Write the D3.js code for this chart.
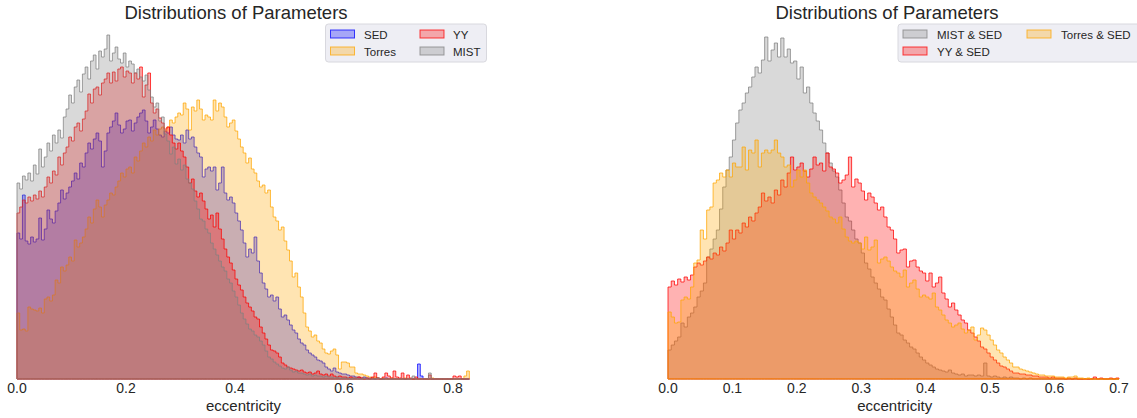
<!DOCTYPE html>
<html><head><meta charset="utf-8">
<script src="https://cdn.jsdelivr.net/npm/d3@7"></script>
<style>body{margin:0;background:#fff}svg{display:block}</style>
</head><body><svg id="c" width="1137" height="418"></svg>
<script>
const binWidth = 0.005;
// Left panel (eccentricity, 0 - 0.83), bin heights
const leftSED = [
146,140,184,138,135,142,137,140,161,139,
150,169,160,156,168,176,189,180,186,192,
198,206,200,216,212,226,236,230,240,246,
238,212,228,246,252,258,266,254,246,250,
258,259,248,256,262,266,269,258,246,252,
259,250,244,242,248,246,252,244,240,239,
244,236,249,240,242,232,226,222,202,210,
212,208,212,189,196,212,186,179,182,176,
166,158,149,136,122,130,126,142,118,106,
96,90,82,84,78,82,70,62,64,59,
54,49,46,40,36,34,29,26,24,22,
19,18,16,12,10,8,11,7,6,5,
5,4,3,3,2,2,1,2,1,1,
1,0,1,0,0,1,0,0,0,0,
0,0,0,0,0,0,0,15,3,0,
0,0,0,0,0,0,0,0,0,0,
0,0,0,0,0,0];
const leftTorres = [
66,49,50,48,72,70,69,68,71,66,
80,82,78,84,99,96,112,108,114,122,
118,139,132,136,142,150,162,156,170,179,
172,162,174,179,186,184,192,198,206,202,
210,212,206,222,218,228,236,232,242,238,
249,244,250,252,248,252,259,256,262,266,
264,276,270,249,272,268,279,270,259,264,
262,259,279,268,276,272,262,252,256,259,
248,240,232,226,216,221,210,206,198,192,
194,186,189,172,162,158,149,152,138,129,
118,102,106,92,82,66,52,48,42,44,
38,36,30,26,25,28,30,24,10,17,
17,16,12,12,6,5,5,4,3,2,
1,2,1,0,1,0,0,1,0,0,
0,0,1,0,0,0,0,0,0,0,
0,0,1,0,0,0,0,0,0,0,
0,0,0,0,3,8];
const leftYY = [
166,172,179,176,182,178,184,180,188,182,
192,202,196,208,204,222,214,226,232,242,
238,252,256,248,260,268,285,276,290,292,
284,296,300,306,296,307,298,310,312,302,
308,306,296,306,300,312,282,294,306,276,
266,270,261,256,250,252,244,236,230,236,
228,222,212,196,200,188,182,186,178,170,
160,164,152,166,150,140,130,122,116,109,
100,94,89,82,76,72,68,62,60,52,
46,40,34,29,28,26,22,16,14,12,
11,10,9,8,9,7,6,7,5,6,
8,5,4,5,3,5,3,2,3,2,
2,1,2,1,1,2,1,0,1,0,
2,6,1,0,2,6,3,1,8,2,
1,6,0,4,1,0,2,0,0,0,
0,4,0,0,0,0,0,0,0,0,
3,2,3,0,0,0];
const leftMIST = [
196,190,203,199,206,198,214,205,230,212,
222,236,228,244,236,249,241,262,270,284,
276,292,299,287,305,312,300,318,324,310,
328,322,330,344,318,326,332,320,316,326,
312,318,315,306,310,302,298,304,289,282,
272,276,258,262,245,238,225,232,215,220,
209,214,200,196,190,178,170,160,158,150,
146,136,130,124,118,112,108,100,96,88,
82,74,66,60,55,50,48,44,42,38,
34,28,22,20,17,15,13,11,10,12,
9,7,8,6,6,5,4,5,3,4,
3,3,2,3,2,2,1,2,1,1,
1,1,0,1,1,0,0,1,0,0,
0,0,1,0,0,0,0,0,0,0,
0,0,0,0,0,3,0,0,0,0,
0,6,0,0,0,0,0,0,0,0,
0,0,0,0,0,0];
// Right panel (eccentricity, 0 - 0.70)
const rightMIST = [
29,34,38,42,56,52,62,66,72,82,
88,96,122,130,140,149,170,192,209,222,
239,256,269,276,286,292,302,312,306,319,
342,318,329,336,322,341,322,330,316,318,
300,312,286,292,276,266,258,249,236,226,
216,208,202,189,176,162,158,149,140,136,
126,116,110,102,96,90,82,79,70,62,
54,46,44,39,36,32,30,26,22,19,
16,14,12,10,9,8,7,9,6,5,
4,5,3,4,4,3,4,3,16,3,
2,3,2,1,2,1,2,1,1,0,
1,0,1,0,0,0,0,0,0,0,
0,0,0,0,0,0,0,0,0,0,
0,0,0,0,0,0,0,0,0,0];
const rightYY = [
92,98,94,100,97,102,99,104,112,116,
114,118,122,120,126,124,132,128,136,149,
140,149,146,156,152,162,158,166,172,186,
178,182,176,189,184,199,192,206,222,209,
212,216,208,202,210,222,214,216,208,226,
212,210,206,196,199,204,222,192,200,196,
188,179,186,182,176,169,172,162,152,149,
140,126,129,130,112,118,119,112,108,106,
98,106,92,96,102,86,80,72,76,69,
64,59,56,49,46,42,38,32,30,26,
22,19,16,13,12,10,8,6,6,5,
5,4,4,3,3,2,2,2,1,2,
1,1,1,0,1,0,1,0,0,0,
0,0,2,0,1,0,0,1,0,1];
const rightTorres = [
67,62,56,57,79,82,80,92,116,119,
149,140,169,172,196,199,206,202,209,202,
216,212,212,232,209,229,226,239,212,226,
229,226,229,239,226,222,212,214,192,199,
209,202,209,196,186,182,179,176,172,168,
162,160,156,162,150,142,138,136,138,136,
130,142,129,132,139,116,120,122,118,112,
108,106,102,109,92,96,99,90,82,84,
82,80,86,72,69,64,59,56,52,54,
56,50,46,49,52,39,44,51,49,44,
39,34,29,26,22,19,16,12,12,10,
9,8,7,6,5,4,4,3,3,3,
2,2,2,1,2,2,3,1,1,0,
1,0,0,0,0,0,0,0,0,0];
const leftTicks = [0, 0.2, 0.4, 0.6, 0.8];
const rightTicks = [0, 0.1, 0.2, 0.3, 0.4, 0.5, 0.6, 0.7];
const leftNames = ["SED", "Torres", "YY", "MIST"];
const rightNames = ["MIST & SED", "YY & SED", "Torres & SED"];
const titleText = "Distributions of Parameters";
const xLabel = "eccentricity";

const FONT = "'Liberation Sans', Arial, sans-serif";
const TXT = "#262626";
const COL = {blue:"#0000ff", orange:"#ffa500", red:"#ff0000", gray:"#808080"};
const svg = d3.select("#c");

const y = d3.scaleLinear().domain([0, 350]).range([379, 29]);

function panel(cfg) {
  const g = svg.append("g");
  const x = cfg.x;
  cfg.series.forEach(s => {
    const pts = s.values.map((v, i) => [i * binWidth, v]);
    pts.push([s.values.length * binWidth, s.values[s.values.length - 1]]);
    const area = d3.area().x(d => x(d[0])).y0(y(0)).y1(d => y(d[1])).curve(d3.curveStepAfter);
    g.append("path").attr("d", area(pts))
      .attr("fill", s.color).attr("fill-opacity", 0.3)
      .attr("stroke", s.color).attr("stroke-opacity", 0.75).attr("stroke-width", 1)
      .attr("stroke-linejoin", "miter");
  });
  // axis tick labels
  const ax = g.append("g").attr("font-family", FONT).attr("font-size", 14).attr("fill", TXT);
  cfg.ticks.forEach(t => {
    ax.append("text").attr("x", x(t)).attr("y", 393).attr("text-anchor", "middle").text(d3.format(".1f")(t));
  });
  g.append("text").attr("x", cfg.labelX).attr("y", 411).attr("text-anchor", "middle")
    .attr("font-family", FONT).attr("font-size", 15).attr("fill", TXT).text(xLabel);
  g.append("text").attr("x", cfg.titleX).attr("y", 19).attr("text-anchor", "middle")
    .attr("font-family", FONT).attr("font-size", 18.5).attr("fill", TXT).text(titleText);
  // legend
  const L = cfg.legend;
  const lg = g.append("g");
  lg.append("rect").attr("x", L.x).attr("y", 24).attr("width", L.w).attr("height", 38).attr("rx", 3)
    .attr("fill", "#eeeef4").attr("stroke", "#d8d8de").attr("stroke-width", 1);
  cfg.series.forEach((s, i) => {
    const col = L.cols[Math.floor(i / 2)], row = i % 2;
    const py = row === 0 ? 30 : 47;
    lg.append("rect").attr("x", col.px).attr("y", py).attr("width", 24).attr("height", 8)
      .attr("fill", s.color).attr("fill-opacity", 0.3).attr("stroke", s.color).attr("stroke-opacity", 0.75);
    lg.append("text").attr("x", col.tx).attr("y", py + 8.5).attr("font-family", FONT)
      .attr("font-size", 11.5).attr("fill", TXT).text(s.name);
  });
}

panel({
  x: d3.scaleLinear().domain([0, 0.8]).range([17, 453]),
  series: [
    {name: leftNames[0], values: leftSED, color: COL.blue},
    {name: leftNames[1], values: leftTorres, color: COL.orange},
    {name: leftNames[2], values: leftYY, color: COL.red},
    {name: leftNames[3], values: leftMIST, color: COL.gray}
  ],
  ticks: leftTicks, labelX: 243.5, titleX: 236,
  legend: {x: 325.5, w: 161, cols: [{px: 330.5, tx: 364}, {px: 420, tx: 453}]}
});

panel({
  x: d3.scaleLinear().domain([0, 0.7]).range([668, 1119]),
  series: [
    {name: rightNames[0], values: rightMIST, color: COL.gray},
    {name: rightNames[1], values: rightYY, color: COL.red},
    {name: rightNames[2], values: rightTorres, color: COL.orange}
  ],
  ticks: rightTicks, labelX: 894.7, titleX: 887,
  legend: {x: 898, w: 245, cols: [{px: 903, tx: 937}, {px: 1027, tx: 1061}]}
});
</script></body></html>
